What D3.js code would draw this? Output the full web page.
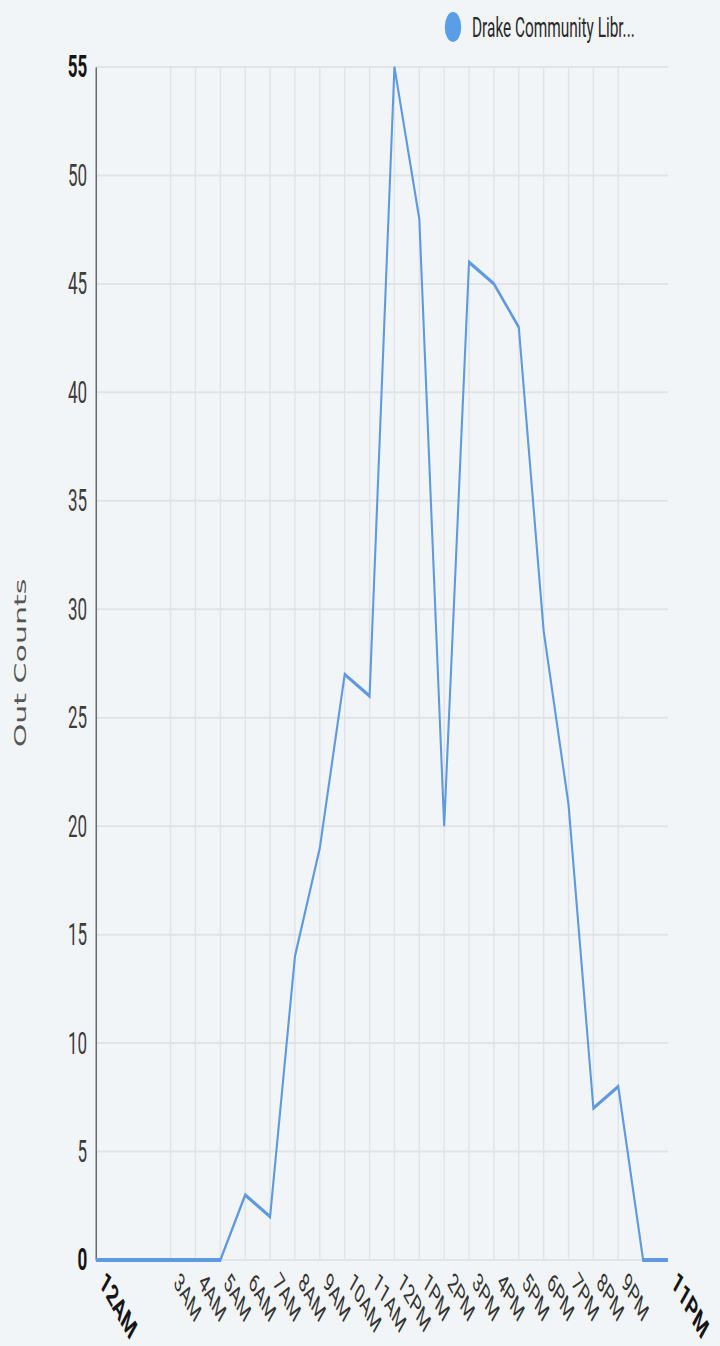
<!DOCTYPE html>
<html>
<head>
<meta charset="utf-8">
<script src="https://cdn.jsdelivr.net/npm/d3@7"></script>
<style>
  html, body { margin: 0; padding: 0; background: #f2f5f7; }
  svg { display: block; }
</style>
</head>
<body>
<div id="chart"></div>
<script>
// Hourly checkout counts for one library branch
const hours = ["12AM","1AM","2AM","3AM","4AM","5AM","6AM","7AM","8AM","9AM","10AM","11AM",
               "12PM","1PM","2PM","3PM","4PM","5PM","6PM","7PM","8PM","9PM","10PM","11PM"];
const outCounts = [0,0,0,0,0,0,3,2,14,19,27,26,55,48,20,46,45,43,29,21,7,8,0,0];
const seriesName = "Drake Community Libr...";
const yTicks = [0,5,10,15,20,25,30,35,40,45,50,55];
const xTickIdx = [0,3,4,5,6,7,8,9,10,11,12,13,14,15,16,17,18,19,20,21,23];
const yTitle = "Out Counts";

// The drawing space is wider than the page and squeezed horizontally into it
const pageW = 720, pageH = 1346, squeeze = 0.55;
const W = pageW / squeeze;

const svg = d3.select("#chart").append("svg")
  .attr("width", pageW).attr("height", pageH)
  .attr("viewBox", `0 0 ${W} ${pageH}`)
  .attr("preserveAspectRatio", "none");

svg.append("rect").attr("width", W).attr("height", pageH).attr("fill", "#f2f5f7");

const plotL = 96 / squeeze, plotR = 668 / squeeze, plotT = 67, plotB = 1260;
const x = d3.scaleLinear().domain([0, hours.length - 1]).range([plotL, plotR]);
const y = d3.scaleLinear().domain([0, 55]).range([plotB, plotT]);
const isEdge = i => i === 0 || i === hours.length - 1;

// horizontal grid
svg.append("g")
  .selectAll("line").data(yTicks).join("line")
  .attr("x1", plotL).attr("x2", plotR)
  .attr("y1", d => y(d)).attr("y2", d => y(d))
  .attr("stroke", "#e1e3e5").attr("stroke-width", 2);

// vertical grid at the inner labelled hours
svg.append("g")
  .selectAll("line").data(xTickIdx.filter(i => !isEdge(i))).join("line")
  .attr("x1", d => x(d)).attr("x2", d => x(d))
  .attr("y1", plotT).attr("y2", plotB)
  .attr("stroke", "#e1e3e5").attr("stroke-width", 2.6);

// y axis
const yAxis = svg.append("g")
  .attr("transform", `translate(${plotL},0)`)
  .call(d3.axisLeft(y).tickValues(yTicks).tickSize(0).tickPadding(16));
yAxis.select(".domain").attr("stroke", "#6a6d70").attr("stroke-width", 2.8);
yAxis.selectAll("text")
  .attr("font-family", "Roboto, sans-serif")
  .attr("font-size", 31)
  .attr("font-weight", d => (d === 0 || d === 55) ? 700 : 400)
  .attr("fill", d => (d === 0 || d === 55) ? "#151515" : "#3d3d3d");

// x axis
const xAxis = svg.append("g")
  .attr("transform", `translate(0,${plotB})`)
  .call(d3.axisBottom(x).tickValues(xTickIdx).tickFormat(i => hours[i]).tickSize(0));
xAxis.select(".domain").remove();
xAxis.selectAll("text")
  .attr("font-family", "Roboto, sans-serif")
  .attr("text-anchor", "start")
  .attr("dy", 0)
  .attr("y", 0)
  .attr("font-size", i => isEdge(i) ? 30 : 27)
  .attr("font-weight", i => isEdge(i) ? 700 : 400)
  .attr("fill", i => isEdge(i) ? "#151515" : "#333")
  .attr("transform", "translate(4,24) rotate(45)");

// y axis title
svg.append("text")
  .attr("transform", `translate(${26 / squeeze},663) rotate(-90)`)
  .attr("text-anchor", "middle")
  .attr("font-family", "'DejaVu Sans', sans-serif")
  .attr("font-size", 30)
  .attr("fill", "#555")
  .text(yTitle);

// series line
const line = d3.line().x((d, i) => x(i)).y(d => y(d));
svg.append("path")
  .datum(outCounts)
  .attr("d", line)
  .attr("fill", "none")
  .attr("stroke", "#5f9ae0")
  .attr("stroke-width", 3.8)
  .attr("stroke-linejoin", "miter");

// legend
const legend = svg.append("g").attr("transform", `translate(${453 / squeeze},27)`);
legend.append("circle").attr("r", 15).attr("fill", "#5b9ee8");
legend.append("text")
  .attr("x", 19 / squeeze).attr("y", 10)
  .attr("font-family", "Roboto, sans-serif")
  .attr("font-size", 28)
  .attr("fill", "#2a2a2a")
  .text(seriesName);
</script>
</body>
</html>
